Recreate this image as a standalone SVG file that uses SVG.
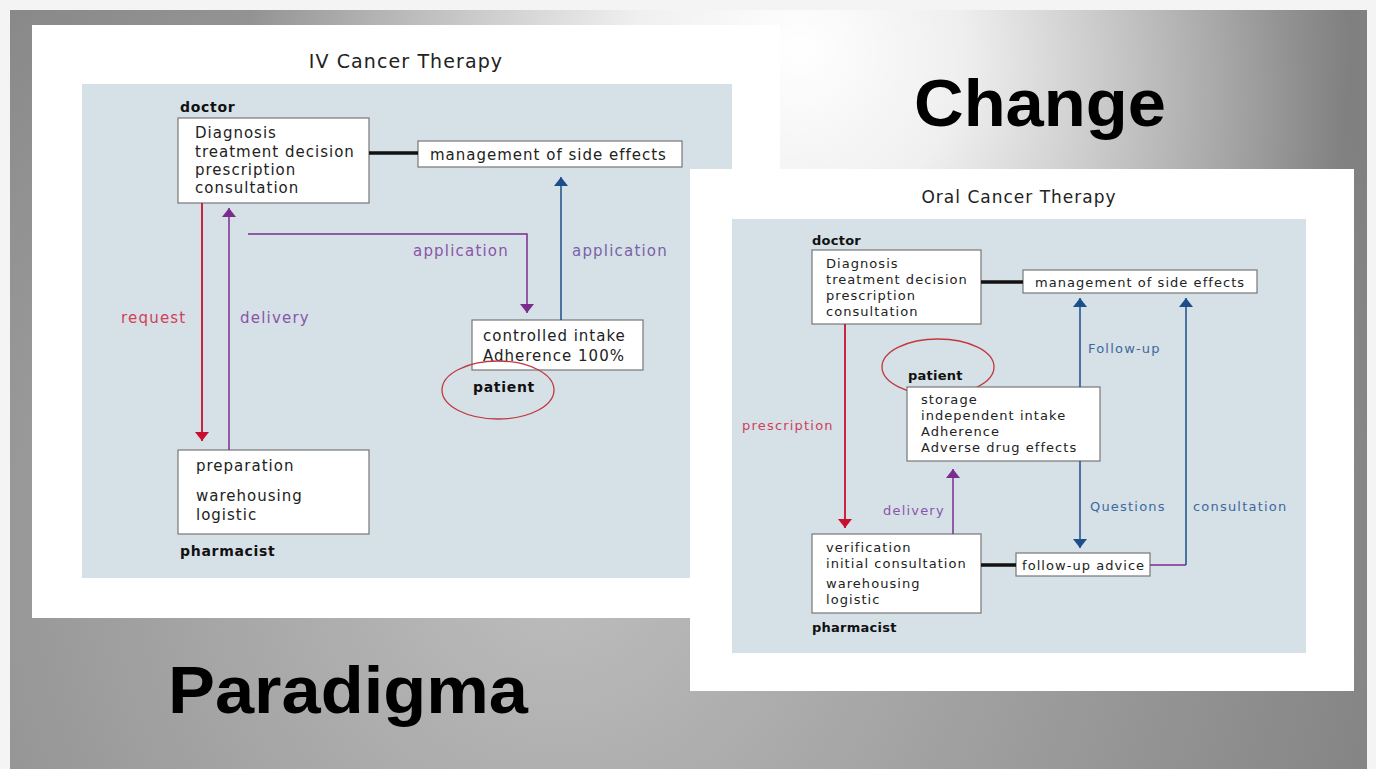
<svg xmlns="http://www.w3.org/2000/svg" width="1376" height="769" viewBox="0 0 1376 769">
<defs>
<radialGradient id="bg" gradientUnits="userSpaceOnUse" cx="560" cy="560" r="900">
<stop offset="0" stop-color="#bebebe"/>
<stop offset="1" stop-color="#808080"/>
</radialGradient>
<radialGradient id="hl" gradientUnits="userSpaceOnUse" cx="800" cy="50" r="550">
<stop offset="0" stop-color="#ffffff" stop-opacity="1"/>
<stop offset="0.3" stop-color="#ffffff" stop-opacity="0.85"/>
<stop offset="1" stop-color="#ffffff" stop-opacity="0"/>
</radialGradient>
<marker id="aRed" markerUnits="userSpaceOnUse" markerWidth="10" markerHeight="16" refX="9" refY="7" orient="auto"><path d="M0,0 L9,7 L0,14 z" fill="#c8102e"/></marker>
<marker id="aPur" markerUnits="userSpaceOnUse" markerWidth="10" markerHeight="16" refX="9" refY="7" orient="auto"><path d="M0,0 L9,7 L0,14 z" fill="#7b2d8e"/></marker>
<marker id="aBlue" markerUnits="userSpaceOnUse" markerWidth="10" markerHeight="16" refX="9" refY="7" orient="auto"><path d="M0,0 L9,7 L0,14 z" fill="#1c4f8a"/></marker>
</defs>
<style>
text{font-family:"DejaVu Sans","Noto Sans",sans-serif;fill:#222}
.box{fill:#fff;stroke:#777;stroke-width:1.2}
.t1{font-size:15px;letter-spacing:1px}
.t2{font-size:13px;letter-spacing:1.05px}
.lab1{font-size:15px;letter-spacing:1.2px}
.lab2{font-size:13px;letter-spacing:1.2px}
.role1{font-size:14px;font-weight:bold;fill:#111;letter-spacing:0.7px}
.role2{font-size:13px;font-weight:bold;fill:#111;letter-spacing:0.25px}
.big{font-family:"Liberation Sans",Arial,sans-serif;font-weight:bold;fill:#000}
.red{stroke:#c8102e;stroke-width:1.8;fill:none}
.pur{stroke:#7b2d8e;stroke-width:1.5;fill:none}
.blue{stroke:#1c4f8a;stroke-width:1.5;fill:none}
.blk{stroke:#111;stroke-width:3.5;fill:none}
.lred{fill:#d0405a}
.lpur{fill:#8a55a8}
.lblue{fill:#3d6a9c}
.lblu2{fill:#7a62a8}
.ell{fill:none;stroke:#c0393f;stroke-width:1.3}
</style>
<rect x="0" y="0" width="1376" height="769" fill="#f4f4f4"/>
<rect x="10" y="10" width="1357" height="759" fill="url(#bg)"/>
<rect x="10" y="10" width="1357" height="759" fill="url(#hl)"/>

<g id="left-panel">
<rect x="32" y="25" width="748" height="593" fill="#ffffff"/>
<rect x="82" y="84" width="650" height="494" fill="#d6e0e7"/>
<text x="406" y="68" font-size="19" letter-spacing="1.1" text-anchor="middle">IV Cancer Therapy</text>
</g>

<g id="slogan-change"><text class="big" x="1040" y="126" font-size="66" text-anchor="middle" textLength="252" lengthAdjust="spacingAndGlyphs">Change</text></g>
<g id="slogan-paradigma"><text class="big" x="168" y="713" font-size="66" textLength="360" lengthAdjust="spacingAndGlyphs">Paradigma</text></g>

<g id="iv-doctor">
<text class="role1" x="180" y="112">doctor</text>
<rect class="box" x="178" y="118" width="191" height="85"/>
<text class="t1"><tspan x="195" y="138">Diagnosis</tspan><tspan x="195" y="157">treatment decision</tspan><tspan x="195" y="175">prescription</tspan><tspan x="195" y="193">consultation</tspan></text>
</g>
<g id="iv-management">
<rect class="box" x="418" y="141" width="264" height="26"/>
<text class="t1" x="430" y="160">management of side effects</text>
</g>
<g id="iv-patient">
<rect class="box" x="472" y="320" width="171" height="50"/>
<text class="t1"><tspan x="483" y="341">controlled intake</tspan><tspan x="483" y="361">Adherence 100%</tspan></text>
<text class="role1" x="473" y="392">patient</text>
<ellipse class="ell" cx="498" cy="390" rx="56" ry="29"/>
</g>
<g id="iv-pharmacist">
<rect class="box" x="178" y="450" width="191" height="84"/>
<text class="t1"><tspan x="196" y="471">preparation</tspan><tspan x="196" y="501">warehousing</tspan><tspan x="196" y="520">logistic</tspan></text>
<text class="role1" x="180" y="556">pharmacist</text>
</g>

<g id="iv-connectors">
<line class="blk" x1="369" y1="153" x2="418" y2="153"/>
<line class="red" x1="202" y1="203" x2="202" y2="441" marker-end="url(#aRed)"/>
<line class="pur" x1="229" y1="450" x2="229" y2="208" marker-end="url(#aPur)"/>
<polyline class="pur" points="248,234 527,234 527,313" marker-end="url(#aPur)"/>
<line class="blue" x1="561" y1="320" x2="561" y2="177" marker-end="url(#aBlue)"/>
<text class="lab1 lred" x="121" y="323">request</text>
<text class="lab1 lpur" x="240" y="323">delivery</text>
<text class="lab1 lpur" x="413" y="256">application</text>
<text class="lab1 lblu2" x="572" y="256">application</text>
</g>

<g id="right-panel">
<rect x="690" y="169" width="664" height="522" fill="#ffffff"/>
<rect x="732" y="219" width="574" height="434" fill="#d6e0e7"/>
<text x="1019" y="203" font-size="17" letter-spacing="1" text-anchor="middle">Oral Cancer Therapy</text>
</g>

<g id="oral-doctor">
<text class="role2" x="812" y="245">doctor</text>
<rect class="box" x="812" y="250" width="169" height="74"/>
<text class="t2"><tspan x="826" y="268">Diagnosis</tspan><tspan x="826" y="284">treatment decision</tspan><tspan x="826" y="300">prescription</tspan><tspan x="826" y="316">consultation</tspan></text>
</g>
<g id="oral-management">
<rect class="box" x="1023" y="270" width="234" height="23"/>
<text class="t2" x="1035" y="287">management of side effects</text>
</g>
<g id="oral-patient">
<ellipse class="ell" cx="938" cy="367" rx="56" ry="28"/>
<text class="role2" x="908" y="380">patient</text>
<rect class="box" x="907" y="387" width="193" height="74"/>
<text class="t2"><tspan x="921" y="404">storage</tspan><tspan x="921" y="420">independent intake</tspan><tspan x="921" y="436">Adherence</tspan><tspan x="921" y="452">Adverse drug effects</tspan></text>
</g>
<g id="oral-pharmacist">
<rect class="box" x="812" y="534" width="169" height="79"/>
<text class="t2"><tspan x="826" y="552">verification</tspan><tspan x="826" y="568">initial consultation</tspan><tspan x="826" y="588">warehousing</tspan><tspan x="826" y="604">logistic</tspan></text>
<text class="role2" x="812" y="632">pharmacist</text>
</g>
<g id="oral-followup">
<rect class="box" x="1016" y="553" width="134" height="23"/>
<text class="t2" x="1022" y="570" letter-spacing="0.3">follow-up advice</text>
</g>

<g id="oral-connectors">
<line class="blk" x1="981" y1="282" x2="1023" y2="282"/>
<line class="blk" x1="981" y1="565" x2="1016" y2="565"/>
<line class="red" x1="845" y1="324" x2="845" y2="528" marker-end="url(#aRed)"/>
<line class="pur" x1="953" y1="534" x2="953" y2="469" marker-end="url(#aPur)"/>
<line class="blue" x1="1080" y1="387" x2="1080" y2="298" marker-end="url(#aBlue)"/>
<line class="blue" x1="1080" y1="461" x2="1080" y2="548" marker-end="url(#aBlue)"/>
<line class="pur" x1="1150" y1="565" x2="1186" y2="565"/>
<line class="blue" x1="1186" y1="565" x2="1186" y2="298" marker-end="url(#aBlue)"/>
<text class="lab2 lred" x="742" y="430">prescription</text>
<text class="lab2 lpur" x="883" y="515">delivery</text>
<text class="lab2 lblue" x="1088" y="353">Follow-up</text>
<text class="lab2 lblue" x="1090" y="511">Questions</text>
<text class="lab2 lblue" x="1193" y="511">consultation</text>
</g>
</svg>
